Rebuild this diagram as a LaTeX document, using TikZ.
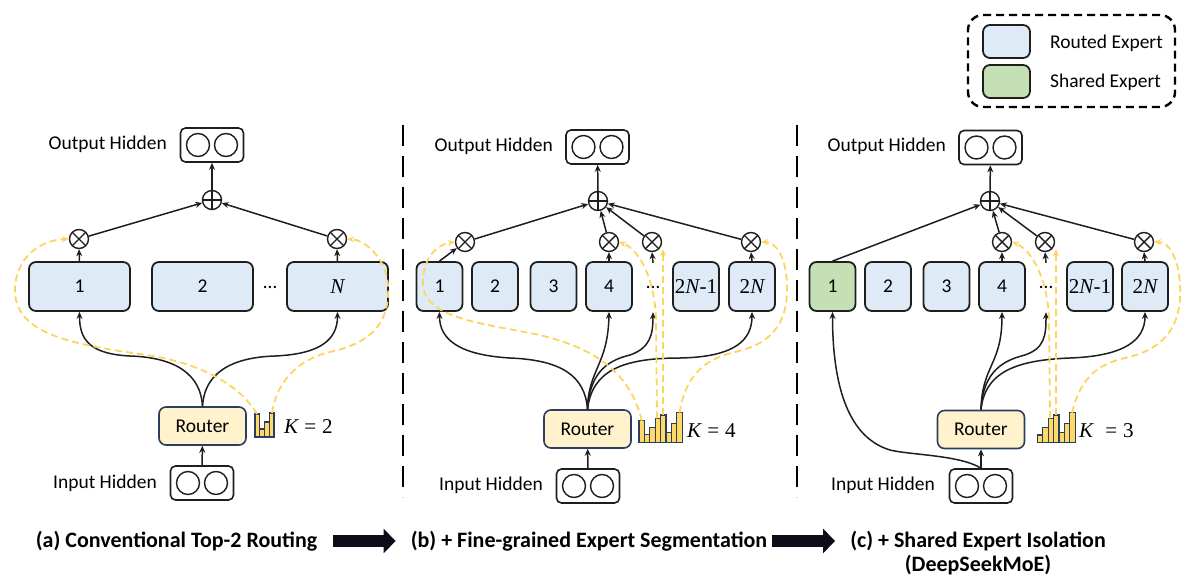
\documentclass[tikz,border=0pt]{standalone}
\usepackage{fontspec}
\setmainfont{Carlito}
\newfontfamily\mserif[Scale=1.08]{Liberation Serif}
\usetikzlibrary{arrows.meta}
\definecolor{routed}{HTML}{DEEBF7}
\definecolor{shared}{HTML}{C5E0B4}
\definecolor{routerfill}{HTML}{FFF2CC}
\definecolor{navy}{HTML}{2B3E5E}
\definecolor{gold}{HTML}{FFD966}
\definecolor{ydash}{HTML}{FFD45E}
\definecolor{edge}{HTML}{1E1E1E}
\definecolor{blockarr}{HTML}{0D0D1A}
\newcommand{\vN}{{\mserif\itshape N}}
\newcommand{\vK}{{\mserif\itshape K}}
\newcommand{\mnum}[1]{{\mserif #1}}
\tikzset{
 txt/.style={font=\fontsize{19.5}{23}\selectfont, inner sep=0pt},
 expert/.style={draw=edge, line width=1.8pt, rounded corners=7pt, fill=routed, minimum height=49pt, inner sep=0pt, txt},
 wideexp/.style={expert, minimum width=101pt},
 narrowexp/.style={expert, minimum width=46pt},
 sharedexp/.style={narrowexp, fill=shared},
 dotsnode/.style={txt, minimum height=49pt, minimum width=10pt},
 hidbox/.style={draw=edge, line width=1.6pt, rounded corners=5pt, minimum width=63pt, minimum height=34pt, inner sep=0pt, fill=white},
 router/.style={draw=navy, line width=1.6pt, rounded corners=7pt, fill=routerfill, minimum width=87pt, minimum height=38pt, txt},
 otim/.style={circle, draw=edge, line width=1.4pt, minimum size=19pt, inner sep=0pt, fill=white, path picture={\draw[line width=1.4pt] (path picture bounding box.north west) -- (path picture bounding box.south east) (path picture bounding box.north east) -- (path picture bounding box.south west);}},
 oplus/.style={circle, draw=edge, line width=1.4pt, minimum size=19pt, inner sep=0pt, fill=white, path picture={\draw[line width=1.4pt] (path picture bounding box.north) -- (path picture bounding box.south) (path picture bounding box.east) -- (path picture bounding box.west);}},
 conn/.style={draw=edge, line width=1.5pt, -{Stealth[length=7pt,width=6pt]}},
 ydsh/.style={draw=ydash, line width=1.8pt, dash pattern=on 7pt off 4pt, -{Stealth[length=7pt,width=6pt]}},
 bar/.style={draw=navy, line width=1.2pt, fill=gold},
 sep/.style={draw=black, line width=2.8pt, dash pattern=on 21pt off 10pt},
 captxt/.style={font=\fontsize{22}{26}\selectfont\bfseries, inner sep=0pt},
 blk/.style={draw=blockarr, line width=12pt, -{Triangle[length=12pt,width=24pt]}},
}
\newcommand{\hidcircles}[1]{%
  \draw[draw=edge, line width=1.4pt] ([xshift=-14pt]#1.center) circle[radius=11.5pt];
  \draw[draw=edge, line width=1.4pt] ([xshift=14pt]#1.center) circle[radius=11.5pt];}
\begin{document}
\begin{tikzpicture}[x=1pt,y=-1pt]
\useasboundingbox (0,0) rectangle (1193,583);

% ---------- legend ----------
\node[draw=black, line width=2.4pt, dash pattern=on 8pt off 5pt, rounded corners=15pt, minimum width=207pt, minimum height=92pt] (legend) at (1071.5,61) {};
\node[expert, minimum width=47pt, minimum height=33pt] (legr) at (1006.5,41.5) {};
\node[expert, fill=shared, minimum width=47pt, minimum height=33pt] (legs) at (1006.5,81.5) {};
\node[txt, anchor=west] (legrt) at (1050,43) {Routed Expert};
\node[txt, anchor=west] (legst) at (1050,82) {Shared Expert};

% ---------- separators ----------
\draw[sep] (403,125) -- (403,497);
\draw[sep] (797,125) -- (797,497);

% ================= panel (a) =================
\node[hidbox] (outa) at (212,145) {}; \hidcircles{outa}
\node[txt, anchor=east] (outal) at (167,144) {Output Hidden};
\node[oplus] (pa) at (212,200) {};
\node[otim] (o1a) at (79,239) {};
\node[otim] (oNa) at (337,239) {};
\node[wideexp] (e1a) at (79.5,286.5) {1};
\node[wideexp] (e2a) at (202.5,286.5) {2};
\node[wideexp] (eNa) at (337.5,286.5) {\vN};
\node[txt] (dotsa) at (270,287.5) {…};
\node[router] (routa) at (202.5,426) {Router};
\foreach \t [count=\i from 0] in {414,429,422,413}
  \draw[bar] ({255+\i*4.75},437) rectangle ({255+(\i+1)*4.75},\t);
\node[txt, anchor=west] (ka) at (284,427) {\vK\hspace{6pt}\mnum{=}\hspace{6pt}\mnum{2}};
\node[hidbox] (ina) at (202,483) {}; \hidcircles{ina}
\node[txt, anchor=east] (inal) at (157,483) {Input Hidden};

\draw[conn] (ina) -- (routa);
\draw[conn] (routa.north) .. controls (200,365) and (160,357) .. (130,356) .. controls (90,354) and (79.5,340) .. (e1a.south);
\draw[conn] (routa.north) .. controls (205,365) and (245,357) .. (275,356) .. controls (320,354) and (337.5,340) .. (eNa.south);
\draw[conn] (e1a.north) -- (o1a.south);
\draw[conn] (eNa.north) -- (oNa.south);
\draw[conn] (o1a) -- (pa);
\draw[conn] (oNa) -- (pa);
\draw[conn] (pa) -- (outa);
\coordinate (ya1) at (257,414);
\coordinate (ya2) at (272,413);
\draw[ydsh] (ya1) .. controls (240,385) and (200,362) .. (140,354) .. controls (60,343) and (15,330) .. (15,290) .. controls (15,258) and (40,240) .. (o1a.west);
\draw[ydsh] (ya2) .. controls (276,385) and (295,360) .. (330,352) .. controls (375,342) and (390,320) .. (388,285) .. controls (386,258) and (365,240) .. (oNa.east);

% ================= panel (b) =================
\node[hidbox] (outb) at (597.5,147) {}; \hidcircles{outb}
\node[txt, anchor=east] (outbl) at (553,146) {Output Hidden};
\node[oplus] (pb) at (598,201) {};
\node[otim] (o1b) at (465,242) {};
\node[otim] (o2b) at (609,242) {};
\node[otim] (o3b) at (652,242) {};
\node[otim] (o4b) at (751,242) {};
\node[narrowexp] (e1b) at (439.5,286.5) {1};
\node[narrowexp] (e2b) at (495,286.5) {2};
\node[narrowexp] (e3b) at (553.5,286.5) {3};
\node[narrowexp] (e4b) at (609,286.5) {4};
\node[dotsnode] (dotsb) at (653,287.5) {…};
\node[narrowexp] (e5b) at (696,286.5) {\mnum{2}\vN\mnum{-1}};
\node[narrowexp] (e6b) at (752,286.5) {\mnum{2}\vN};
\node[router] (routb) at (587.5,429) {Router};
\foreach \t [count=\i from 0] in {420.7,434.3,427.7,418.3,415,432.7,423.3,412.7}
  \draw[bar] ({639+\i*5.4},442.3) rectangle ({639+(\i+1)*5.4},\t);
\node[txt, anchor=west] (kb) at (687,431) {\vK\hspace{6pt}\mnum{=}\hspace{6pt}\mnum{4}};
\node[hidbox] (inb) at (588,486) {}; \hidcircles{inb}
\node[txt, anchor=east] (inbl) at (543,485) {Input Hidden};

\draw[conn] (inb) -- (routb);
\draw[conn] (routb.north) .. controls (585,375) and (560,360) .. (510,358) .. controls (460,355) and (439.5,340) .. (e1b.south);
\draw[conn] (routb.north) .. controls (588,370) and (608,365) .. (e4b.south);
\draw[conn] (routb.north) .. controls (590,370) and (610,360) .. (630,355) .. controls (650,348) and (653,335) .. (dotsb.south);
\draw[conn] (routb.north) .. controls (592,372) and (620,358) .. (680,358) .. controls (735,357) and (752,340) .. (e6b.south);
\draw[conn] (e1b.north) -- (o1b);
\draw[conn] (e4b.north) -- (o2b.south);
\draw[conn] (dotsb.north) -- (o3b.south);
\draw[conn] (e6b.north) -- (o4b.south);
\draw[conn] (o1b) -- (pb);
\draw[conn] (o2b) -- (pb);
\draw[conn] (o3b) -- (pb);
\draw[conn] (o4b) -- (pb);
\draw[conn] (pb) -- (outb);
\coordinate (yb1) at (641.7,420.7);
\coordinate (yb2) at (657,418.3);
\coordinate (yb3) at (663,415);
\coordinate (yb4) at (679.5,412.7);
\draw[ydsh] (yb1) .. controls (630,370) and (590,345) .. (530,333) .. controls (470,322) and (425,315) .. (423,285) .. controls (422,260) and (435,245) .. (o1b.west);
\draw[ydsh] (yb2) -- (656,320) .. controls (655,280) and (640,250) .. (o2b.east);
\draw[ydsh] (yb3) -- (yb3 |- o3b.south east);
\draw[ydsh] (yb4) .. controls (685,380) and (700,360) .. (735,352) .. controls (775,343) and (788,320) .. (787,285) .. controls (786,255) and (775,242) .. (o4b.east);

% ================= panel (c) =================
\node[hidbox] (outc) at (990.5,147.5) {}; \hidcircles{outc}
\node[txt, anchor=east] (outcl) at (946,146) {Output Hidden};
\node[oplus] (pc) at (990,201) {};
\node[otim] (o1c) at (1002,242) {};
\node[otim] (o2c) at (1045,242) {};
\node[otim] (o3c) at (1144,242) {};
\node[sharedexp] (e1c) at (832.5,286.5) {1};
\node[narrowexp] (e2c) at (888,286.5) {2};
\node[narrowexp] (e3c) at (946.5,286.5) {3};
\node[narrowexp] (e4c) at (1002,286.5) {4};
\node[dotsnode] (dotsc) at (1046,287.5) {…};
\node[narrowexp] (e5c) at (1090,286.5) {\mnum{2}\vN\mnum{-1}};
\node[narrowexp] (e6c) at (1145,286.5) {\mnum{2}\vN};
\node[router] (routc) at (981,429.5) {Router};
\foreach \t [count=\i from 0] in {435,427.7,418.3,415,432.7,423.3,412.7}
  \draw[bar] ({1037.3+\i*5.4},442.3) rectangle ({1037.3+(\i+1)*5.4},\t);
\node[txt, anchor=west] (kc) at (1079,431) {\vK\hspace{12pt}\mnum{=}\hspace{6pt}\mnum{3}};
\node[hidbox] (inc) at (981,486) {}; \hidcircles{inc}
\node[txt, anchor=east] (incl) at (935,485) {Input Hidden};

\draw[conn] (inc) -- (routc);
\draw[conn] (inc.north) .. controls (960,455) and (910,455) .. (890,450) .. controls (850,438) and (832.5,390) .. (e1c.south);
\draw[conn] (routc.north) .. controls (982,365) and (1002,365) .. (e4c.south);
\draw[conn] (routc.north) .. controls (983,370) and (1005,360) .. (1025,355) .. controls (1045,348) and (1046,335) .. (dotsc.south);
\draw[conn] (routc.north) .. controls (985,370) and (1020,360) .. (1070,358) .. controls (1125,356) and (1145,340) .. (e6c.south);
\draw[conn] (e1c.north) -- (pc);
\draw[conn] (e4c.north) -- (o1c.south);
\draw[conn] (dotsc.north) -- (o2c.south);
\draw[conn] (e6c.north) -- (o3c.south);
\draw[conn] (o1c) -- (pc);
\draw[conn] (o2c) -- (pc);
\draw[conn] (o3c) -- (pc);
\draw[conn] (pc) -- (outc);
\coordinate (yc1) at (1050,418.3);
\coordinate (yc2) at (1056,415);
\coordinate (yc3) at (1072,412.7);
\draw[ydsh] (yc1) -- (1049,320) .. controls (1048,280) and (1032,250) .. (o1c.east);
\draw[ydsh] (yc2) -- (yc2 |- o2c.south east);
\draw[ydsh] (yc3) .. controls (1080,380) and (1095,365) .. (1125,358) .. controls (1170,348) and (1182,320) .. (1180,285) .. controls (1178,255) and (1168,242) .. (o3c.east);

% ---------- captions ----------
\node[captxt] (capa) at (176.5,541) {(a) Conventional Top-2 Routing};
\node[captxt] (capb) at (589,541) {(b) + Fine-grained Expert Segmentation};
\node[captxt] (capc) at (978,541) {(c) + Shared Expert Isolation};
\node[captxt] (capd) at (978,565) {(DeepSeekMoE)};
\draw[blk, shorten <=16pt, shorten >=15pt] (capa.east) -- (capa.east -| capb.west);
\draw[blk, shorten <=5pt, shorten >=15pt] (capb.east) -- (capb.east -| capc.west);
\end{tikzpicture}
\end{document}
